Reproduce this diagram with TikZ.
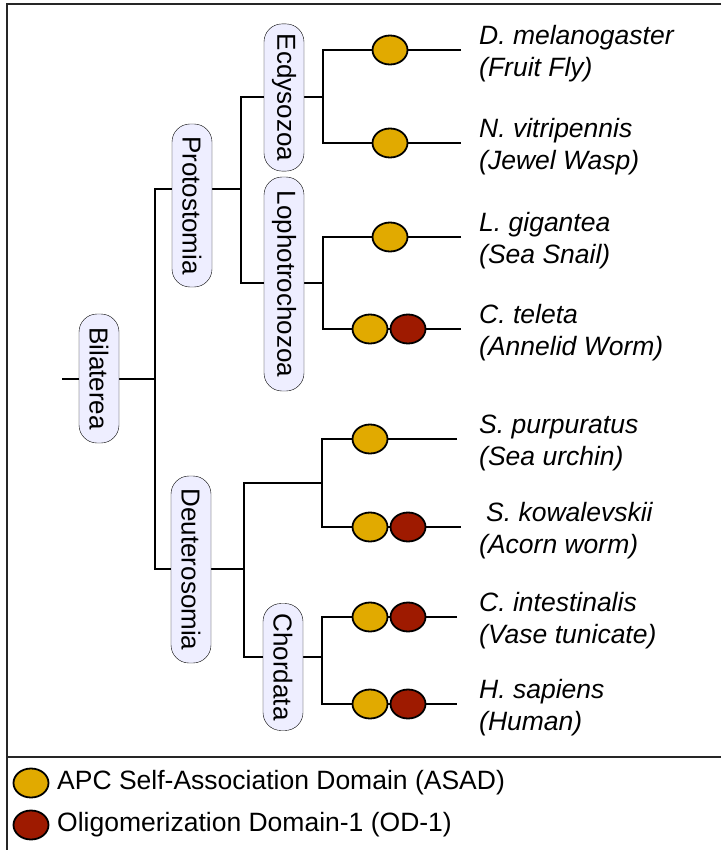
\documentclass[tikz,border=0pt]{standalone}
\usepackage{fontspec}
\setmainfont{Liberation Sans}
\usetikzlibrary{shapes.geometric}
\definecolor{asadyellow}{HTML}{E1AA00}
\definecolor{odred}{HTML}{9E1A00}
\definecolor{cladefill}{HTML}{EEEEFF}
\tikzset{
    clade/.style={draw,fill=cladefill,rounded corners=18pt,rotate=-90,   % rotated clade boxes
                  minimum height=40pt,inner xsep=10pt,inner ysep=0pt,
                  font=\fontsize{26}{30}\selectfont},
    branch/.style={line width=2pt},                                     % tree lines
    asad/.style={ellipse,draw,line width=1.8pt,fill=asadyellow,          % domain marks
                 minimum width=35pt,minimum height=29pt,inner sep=0pt},
    od/.style={asad,fill=odred},
    species/.style={anchor=west,align=left,inner sep=0pt,
                    font=\fontsize{26.5}{32}\selectfont\itshape},
    legend/.style={anchor=west,inner sep=0pt,font=\fontsize{26.5}{30}\selectfont}
}

\begin{document}
\begin{tikzpicture}[x=1pt,y=-1pt]
        \useasboundingbox (0,0) rectangle (721,850);
        \draw[line width=1.6pt,black!85] (721,4) -- (7,4) -- (7,850);
        \draw[line width=1.6pt,black!85] (7,757) -- (721,757);

        \coordinate (root) at (62,379);
        \coordinate (jB) at (155,379);
        \coordinate (jP) at (241,189);
        \coordinate (jD) at (244,569);
        \coordinate (jE) at (323,97);
        \coordinate (jL) at (323,283);
        \coordinate (jU) at (322,483);
        \coordinate (jC) at (322,657);
        \coordinate (s1) at (461,50);
        \coordinate (s2) at (461,143);
        \coordinate (s3) at (461,237);
        \coordinate (s4) at (461,329);
        \coordinate (s5) at (457,439);
        \coordinate (s6) at (461,527);
        \coordinate (s7) at (457,617);
        \coordinate (s8) at (457,704);

        \draw[branch] (root) -- (jB);
        \draw[branch] (jP) -| (jB) |- (jD);
        \draw[branch] (jE) -| (jP) |- (jL);
        \draw[branch] (jU) -| (jD) |- (jC);
        \draw[branch] (s1) -| (jE) |- (s2);
        \draw[branch] (s3) -| (jL) |- (s4);
        \draw[branch] (s5) -| (jU) |- (s6);
        \draw[branch] (s7) -| (jC) |- (s8);

        \foreach \s/\x in {s1/390,s2/390,s3/390,s4/370,s5/370,s6/370,s7/370,s8/370}
        {
            \node[asad] (a-\s) at (\x,0 |- \s) {};
        }
        \foreach \s in {s4,s6,s7,s8}
        {
            \node[od] (o-\s) at (408,0 |- \s) {};
        }

        \node[clade,minimum width=145pt] (ecd) at (284,97.5) {Ecdysozoa};
        \node[clade,minimum width=214pt] (loph) at (284,284) {Lophotrochozoa};
        \node[clade,minimum width=163pt] (prot) at (192,205.5) {Protostomia};
        \node[clade,minimum width=129pt] (bil) at (99,378.5) {Bilaterea};
        \node[clade,minimum width=187pt] (deut) at (191,569.5) {Deuterosomia};
        \node[clade,minimum width=124pt] (chord) at (283,667) {Chordata};

        \foreach \y/\latin/\common in {54/D. melanogaster/Fruit Fly,147/N. vitripennis/Jewel Wasp,
            241/L. gigantea/Sea Snail,333/C. teleta/Annelid Worm,443/S. purpuratus/Sea urchin,
            531/\hspace*{7pt}S. kowalevskii/Acorn worm,621/C. intestinalis/Vase tunicate,
            708/H. sapiens/Human}
        {
            \node[species] (sp\y) at (479,\y) {\latin\\(\common)};
        }

        \node[asad] (keyA) at (31,783) {};
        \node[legend] (keyAtext) at (57,783) {APC Self-Association Domain (ASAD)};
        \node[od] (keyO) at (31,825) {};
        \node[legend] (keyOtext) at (57,825) {Oligomerization Domain-1 (OD-1)};
    \end{tikzpicture}
\end{document}
